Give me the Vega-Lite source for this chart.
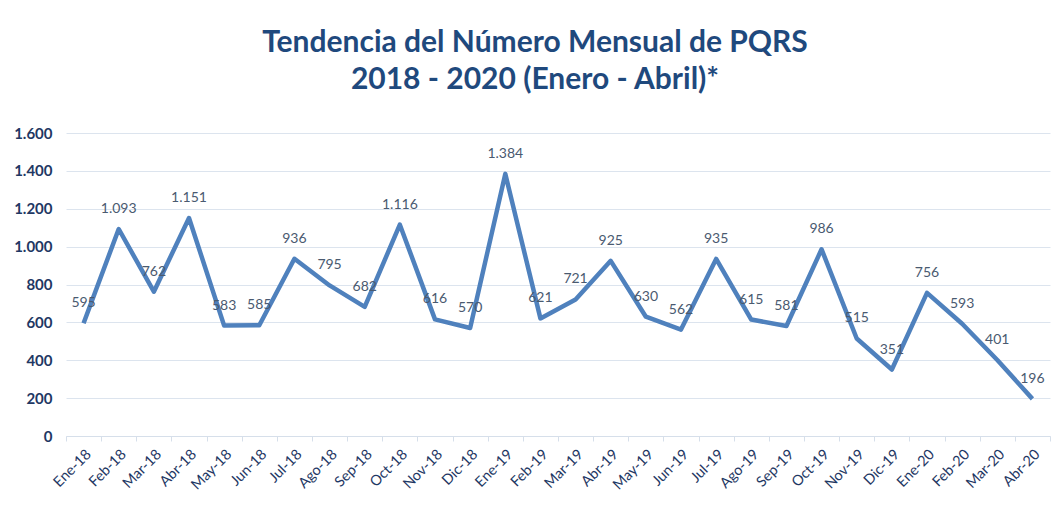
{
  "$schema": "https://vega.github.io/schema/vega-lite/v6.json",
  "width": 984,
  "height": 303,
  "autosize": "none",
  "padding": {"left": 66, "top": 133, "right": 4, "bottom": 74},
  "background": "white",
  "config": {
    "locale": {"number": {"decimal": ",", "thousands": ".", "grouping": [3], "currency": ["$", ""]}},
    "view": {"stroke": null},
    "font": "Lato"
  },
  "title": {
    "text": ["Tendencia del Número Mensual de PQRS", "2018 - 2020 (Enero - Abril)*"],
    "font": "Lato",
    "fontSize": 30,
    "fontWeight": "bold",
    "color": "#1F497D",
    "lineHeight": 37,
    "anchor": "middle",
    "dx": -23,
    "offset": 31
  },
  "data": {
    "values": [
      {"mes": "Ene-18", "pqrs": 595},
      {"mes": "Feb-18", "pqrs": 1093},
      {"mes": "Mar-18", "pqrs": 762},
      {"mes": "Abr-18", "pqrs": 1151},
      {"mes": "May-18", "pqrs": 583},
      {"mes": "Jun-18", "pqrs": 585},
      {"mes": "Jul-18", "pqrs": 936},
      {"mes": "Ago-18", "pqrs": 795},
      {"mes": "Sep-18", "pqrs": 682},
      {"mes": "Oct-18", "pqrs": 1116},
      {"mes": "Nov-18", "pqrs": 616},
      {"mes": "Dic-18", "pqrs": 570},
      {"mes": "Ene-19", "pqrs": 1384},
      {"mes": "Feb-19", "pqrs": 621},
      {"mes": "Mar-19", "pqrs": 721},
      {"mes": "Abr-19", "pqrs": 925},
      {"mes": "May-19", "pqrs": 630},
      {"mes": "Jun-19", "pqrs": 562},
      {"mes": "Jul-19", "pqrs": 935},
      {"mes": "Ago-19", "pqrs": 615},
      {"mes": "Sep-19", "pqrs": 581},
      {"mes": "Oct-19", "pqrs": 986},
      {"mes": "Nov-19", "pqrs": 515},
      {"mes": "Dic-19", "pqrs": 351},
      {"mes": "Ene-20", "pqrs": 756},
      {"mes": "Feb-20", "pqrs": 593},
      {"mes": "Mar-20", "pqrs": 401},
      {"mes": "Abr-20", "pqrs": 196}
    ]
  },
  "encoding": {
    "x": {
      "field": "mes",
      "type": "nominal",
      "sort": null,
      "title": null,
      "scale": {"paddingInner": 0, "paddingOuter": 0},
      "axis": {
        "labelAngle": -45,
        "labelFontSize": 14.5,
        "labelColor": "#1F3864",
        "labelFont": "Lato",
        "domainColor": "#D6DFEA",
        "tickColor": "#D6DFEA",
        "tickBand": "extent",
        "tickSize": 5,
        "labelPadding": 6
      }
    },
    "y": {
      "field": "pqrs",
      "type": "quantitative",
      "title": null,
      "scale": {"domain": [0, 1600]},
      "axis": {
        "values": [0, 200, 400, 600, 800, 1000, 1200, 1400, 1600],
        "format": ",.0f",
        "labelFontSize": 15,
        "labelFontWeight": "bold",
        "labelColor": "#1F3864",
        "labelPadding": 14,
        "domain": false,
        "ticks": false,
        "gridColor": "#DCE4EE",
        "gridWidth": 1
      }
    }
  },
  "layer": [
    {
      "mark": {"type": "line", "color": "#4F81BD", "strokeWidth": 4.5, "strokeJoin": "round"}
    },
    {
      "mark": {"type": "text", "dy": -20, "fontSize": 14, "color": "#4A5A70", "font": "Lato"},
      "encoding": {"text": {"field": "pqrs", "type": "quantitative", "format": ","}}
    }
  ]
}
